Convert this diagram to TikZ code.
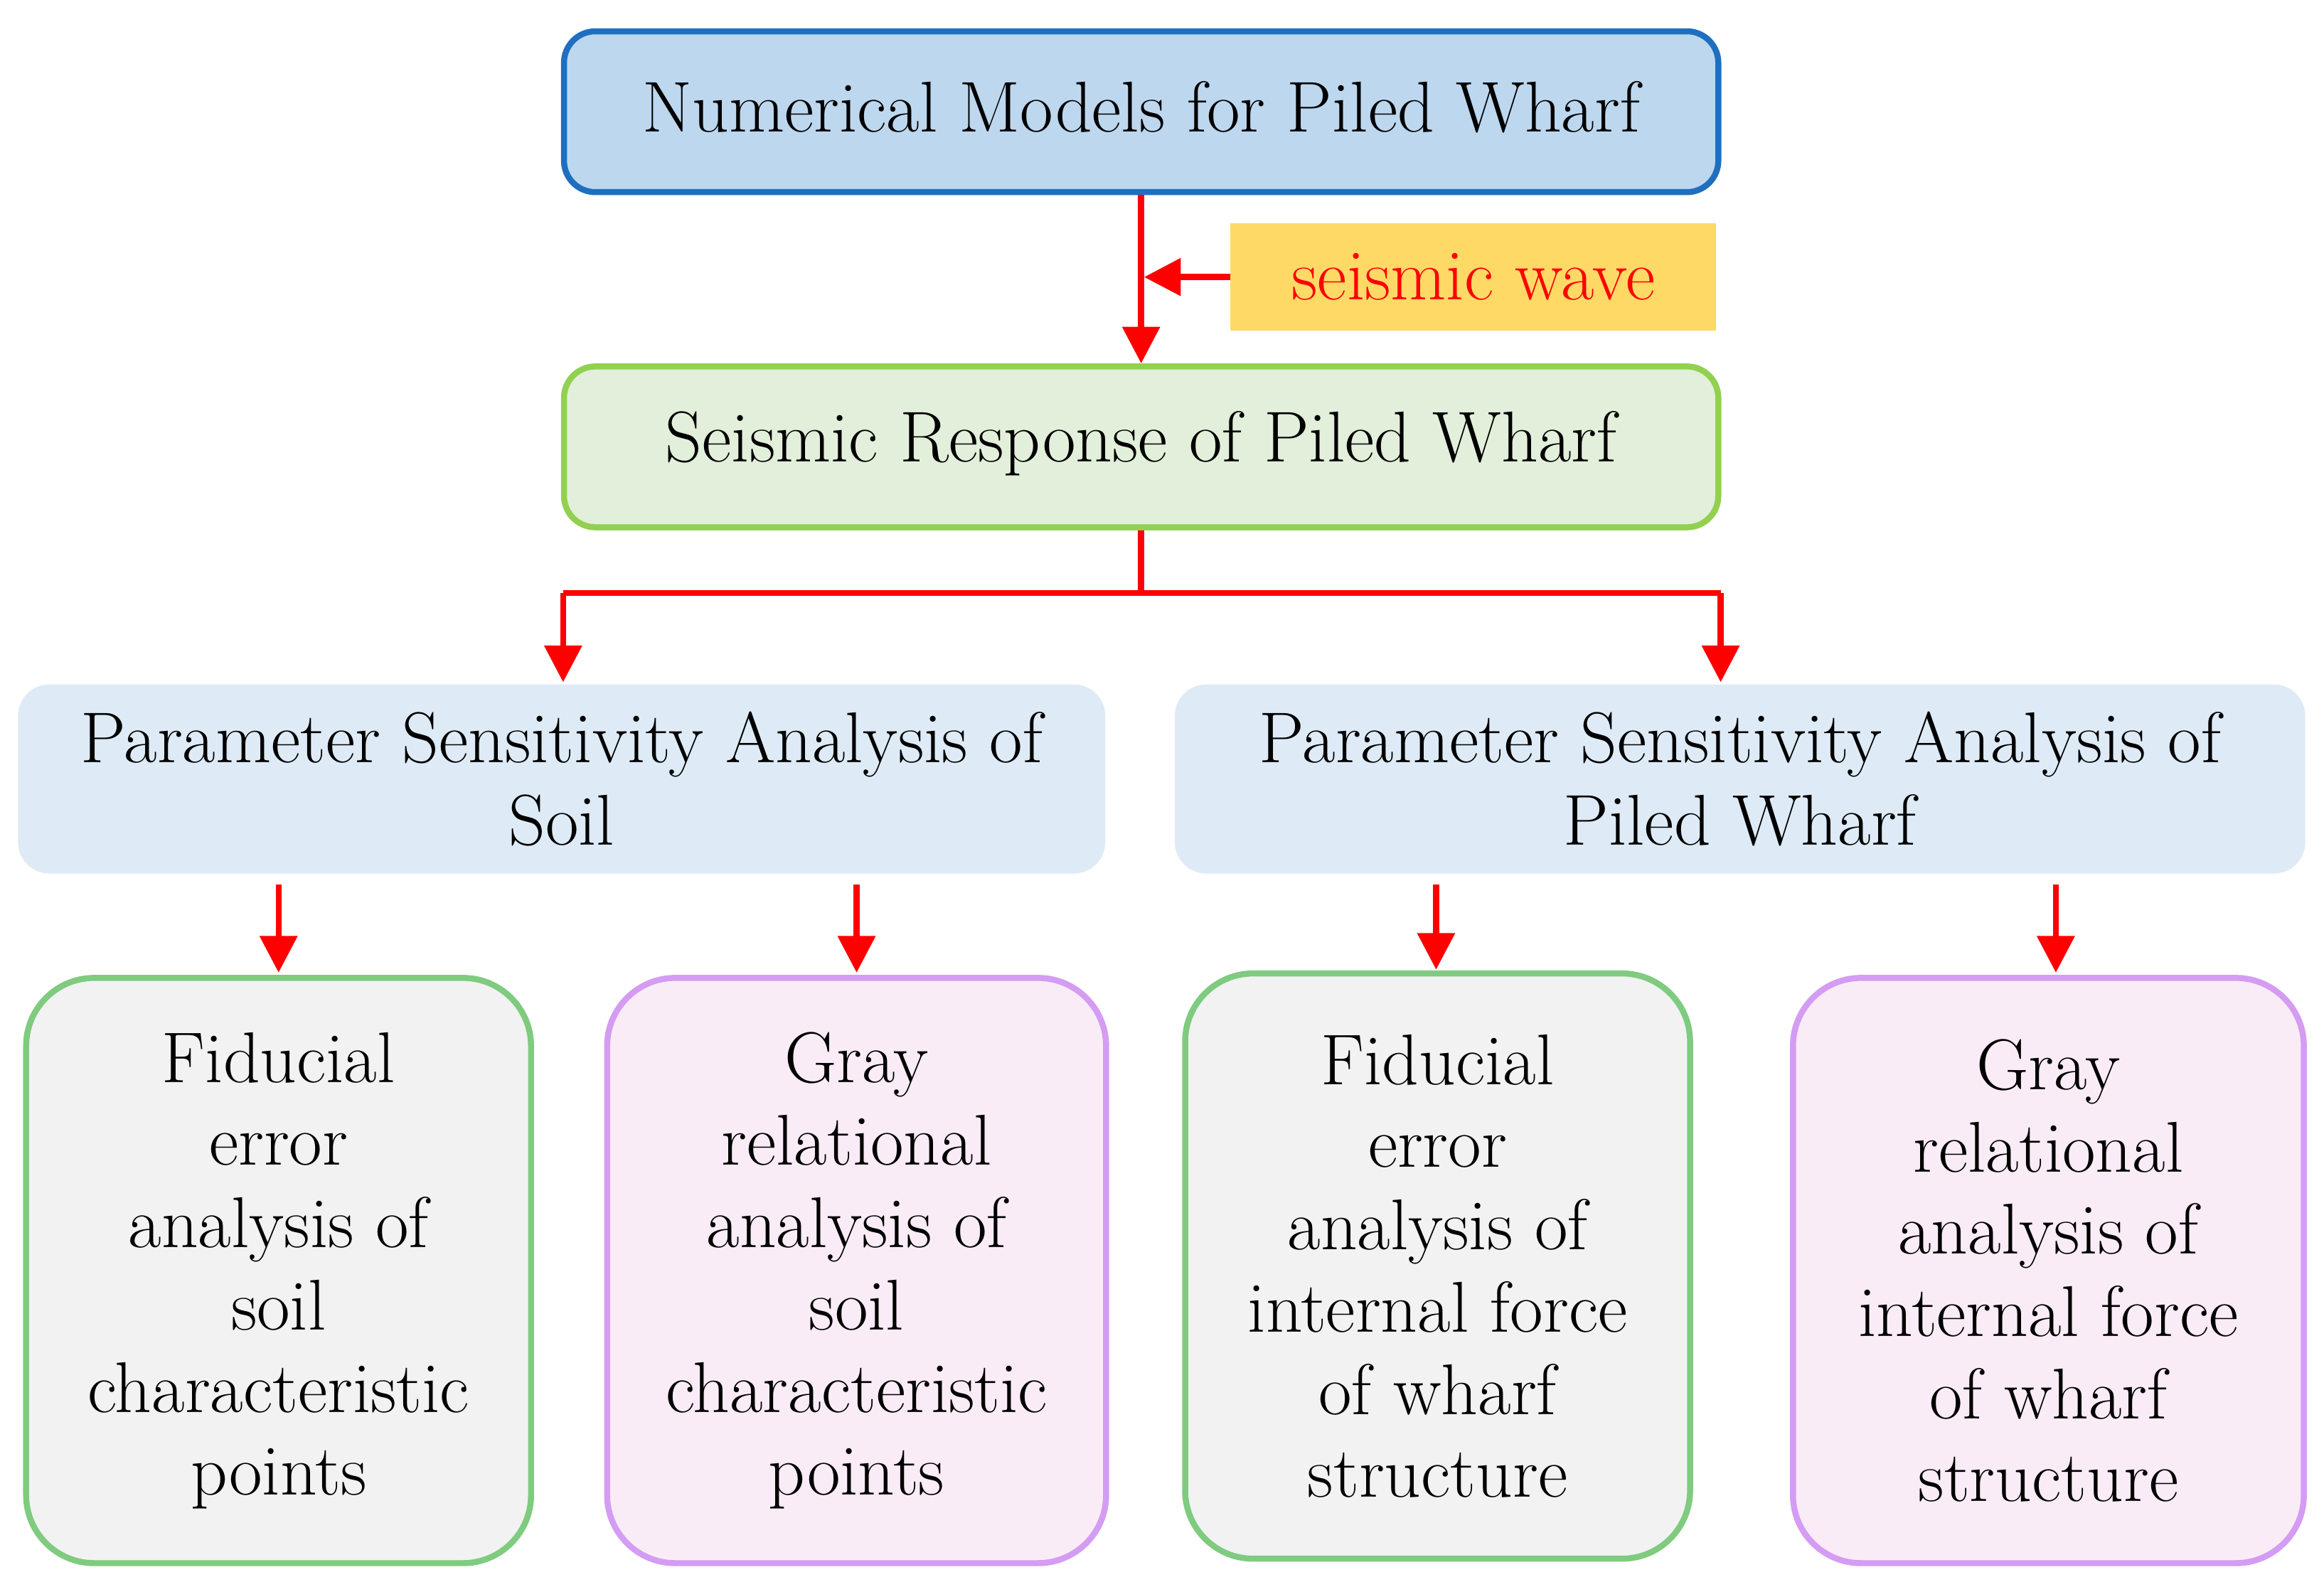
\documentclass[tikz,border=0pt]{standalone}
\usetikzlibrary{arrows.meta}
\begin{document}
\begin{tikzpicture}[x=0.02cm,y=-0.02cm,
 txt/.style={font=\fontsize{27.5}{31.5}\selectfont,align=center},
 box/.style={draw,line width=2.3pt,rounded corners=12pt},
 arr/.style={draw=red,line width=2.3pt,-{Triangle[length=14pt,width=14pt]}},
 ln/.style={draw=red,line width=2.3pt}]
\definecolor{tb}{HTML}{BDD7EE}\definecolor{tbd}{HTML}{1F6FC0}
\definecolor{gf}{HTML}{E2EFDA}\definecolor{gd}{HTML}{92D050}
\definecolor{lb}{HTML}{DEEBF7}\definecolor{yl}{HTML}{FFD966}
\definecolor{gy}{HTML}{F2F2F2}\definecolor{gb}{HTML}{7FCB7F}
\definecolor{pf}{HTML}{F9ECF7}\definecolor{pd}{HTML}{D49CF2}
\useasboundingbox (0,0) rectangle (1560,1062);
\node[box,draw=tbd,fill=tb,minimum width=15.5cm,minimum height=2.16cm] (top) at (766,75) {};
\node[txt] (topt) at (766,72) {Numerical Models for Piled Wharf};
\node[box,draw=gd,fill=gf,minimum width=15.5cm,minimum height=2.16cm] (mid) at (766,300) {};
\node[txt] (midt) at (766,298) {Seismic Response of Piled Wharf};
\node[fill=yl,minimum width=6.52cm,minimum height=1.44cm,txt,text=red] (sw) at (989,186) {seismic wave};
\draw[arr] (top.south) -- (mid.north);
\draw[arr] (sw.west) -- (768,186);
\node[fill=lb,rounded corners=12pt,minimum width=14.6cm,minimum height=2.54cm] (l) at (377,523) {};
\node[txt] (lt) at (377,523) {Parameter Sensitivity Analysis of\\Soil};
\node[fill=lb,rounded corners=12pt,minimum width=15.18cm,minimum height=2.54cm] (r) at (1168,523) {};
\node[txt] (rt) at (1168,523) {Parameter Sensitivity Analysis of\\Piled Wharf};
\coordinate (j) at (766,398);
\coordinate (jl) at (378,398);\coordinate (jr) at (1155,398);
\draw[ln] (mid.south) -- (j);
\draw[ln] (jl) -- (jr);
\draw[arr] (jl) -- (378,458);
\draw[arr] (jr) -- (1155,458);
\tikzset{bb/.style={draw,line width=2.3pt,rounded corners=26pt,minimum width=6.78cm,minimum height=7.86cm}}
\node[bb,draw=gb,fill=gy] (b1) at (187,853) {};
\node[bb,draw=pd,fill=pf,minimum width=6.7cm] (b2) at (575,853) {};
\node[bb,draw=gb,fill=gy] (b3) at (965,850) {};
\node[bb,draw=pd,fill=pf,minimum width=6.86cm] (b4) at (1375,853) {};
\node[txt] at (187,853) {Fiducial\\error\\analysis of\\soil\\characteristic\\points};
\node[txt] at (575,853) {Gray\\relational\\analysis of\\soil\\characteristic\\points};
\node[txt] at (965,850) {Fiducial\\error\\analysis of\\internal force\\of wharf\\structure};
\node[txt] at (1375,853) {Gray\\relational\\analysis of\\internal force\\of wharf\\structure};
\coordinate (a1) at (187,594);\coordinate (a2) at (575,594);
\coordinate (a3) at (964,594);\coordinate (a4) at (1380,594);
\draw[arr] (a1) -- (187,653);
\draw[arr] (a2) -- (575,653);
\draw[arr] (a3) -- (964,651);
\draw[arr] (a4) -- (1380,653);
\end{tikzpicture}
\end{document}
